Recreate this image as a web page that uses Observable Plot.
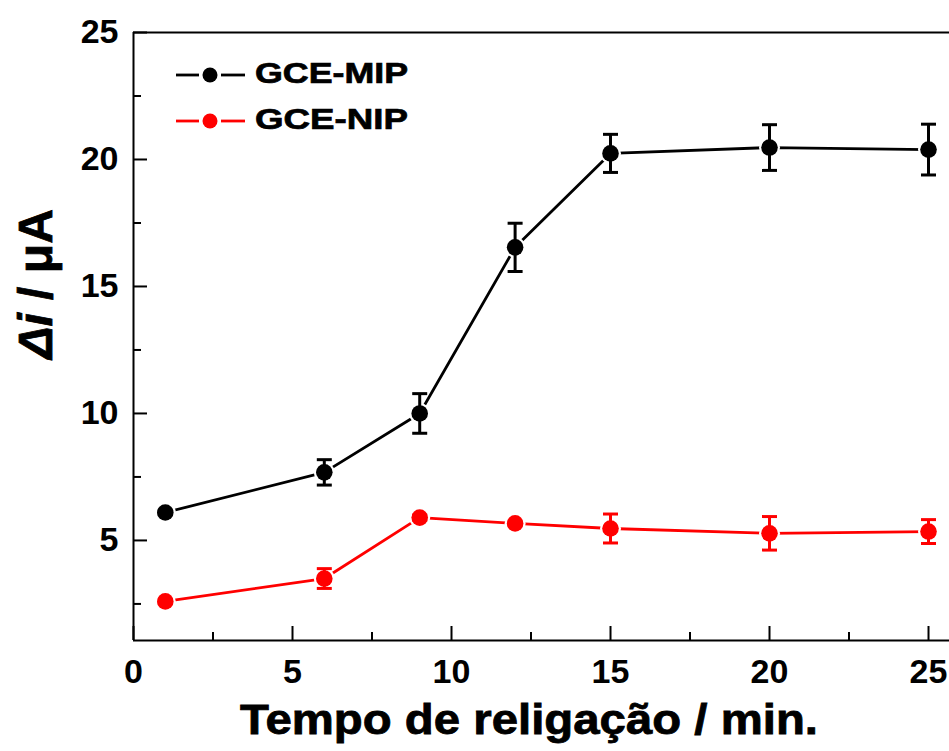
<!DOCTYPE html>
<html>
<head>
<meta charset="utf-8">
<script src="https://cdn.jsdelivr.net/npm/d3@7"></script>
<script src="https://cdn.jsdelivr.net/npm/@observablehq/plot@0.6"></script>
<style>
  html, body { margin: 0; padding: 0; background: #fff; }
  #chart svg { display: block; font-family: "Liberation Sans", Arial, sans-serif; }
</style>
</head>
<body>
<div id="chart"></div>
<script>
// Rebinding time (min) and current response for the imprinted and non-imprinted electrodes
const times = [1, 6, 9, 12, 15, 20, 25];
const mipValues = [6.1, 7.68, 10.0, 16.54, 20.24, 20.47, 20.39];
const mipErrors = [0.05, 0.5, 0.78, 0.95, 0.75, 0.9, 1.0];
const nipValues = [2.6, 3.5, 5.9, 5.67, 5.47, 5.28, 5.35];
const nipErrors = [0.05, 0.39, 0.1, 0.05, 0.57, 0.66, 0.47];

const seriesNames = ["GCE-MIP", "GCE-NIP"];
const seriesColors = ["#000000", "#ff0000"];

const xMajor = [0, 5, 10, 15, 20, 25];
const xMinor = [2.5, 7.5, 12.5, 17.5, 22.5];
const yMajor = [5, 10, 15, 20, 25];
const yMinor = [2.5, 7.5, 12.5, 17.5, 22.5];

const xTitle = "Tempo de religação / min.";

const xDomain = [0, 25.66];
const yDomain = [1.06, 25];

const rows = [];
times.forEach((t, i) => {
  rows.push({series: seriesNames[0], t, v: mipValues[i], e: mipErrors[i]});
  rows.push({series: seriesNames[1], t, v: nipValues[i], e: nipErrors[i]});
});

const W = 949, H = 751;
const mL = 133, mR = 0, mT = 32, mB = 111;
const frameW = W - mL - mR, frameH = H - mT - mB;

// horizontal cap for the error bars
const capSymbol = {
  draw(context) {
    context.moveTo(-7.5, 0);
    context.lineTo(7.5, 0);
  }
};

const colorOf = d => seriesColors[seriesNames.indexOf(d.series)];
const font = {
  fontSize: 34, fontWeight: "bold", fontFamily: "Liberation Sans, Arial, sans-serif",
  stroke: "#000", strokeWidth: 0.7
};

const chart = Plot.plot({
  width: W,
  height: H,
  marginLeft: mL,
  marginRight: mR,
  marginTop: mT,
  marginBottom: mB,
  x: {domain: xDomain, axis: null},
  y: {domain: yDomain, axis: null},
  marks: [
    // frame: left, bottom and top edges
    Plot.ruleX([xDomain[0]], {stroke: "#000", strokeWidth: 2}),
    Plot.ruleY([yDomain[0]], {stroke: "#000", strokeWidth: 2}),
    Plot.ruleY([yDomain[1]], {stroke: "#000", strokeWidth: 2}),
    // inward ticks
    Plot.tickX(xMajor, {x: d => d, insetTop: frameH - 14, stroke: "#000", strokeWidth: 2}),
    Plot.tickX(xMinor, {x: d => d, insetTop: frameH - 8, stroke: "#000", strokeWidth: 2}),
    Plot.tickY(yMajor, {y: d => d, insetRight: frameW - 14, stroke: "#000", strokeWidth: 2}),
    Plot.tickY(yMinor, {y: d => d, insetRight: frameW - 8, stroke: "#000", strokeWidth: 2}),
    // tick labels
    Plot.axisX(xMajor, {anchor: "bottom", tickSize: 0, tickPadding: 18, label: null, ...font}),
    Plot.axisY(yMajor, {anchor: "left", tickSize: 0, tickPadding: 15, label: null, ...font}),
    // series lines
    Plot.line(rows, {x: "t", y: "v", z: "series", stroke: colorOf, strokeWidth: 2.8}),
    // white halo leaving a small gap between line and marker
    Plot.dot(rows, {x: "t", y: "v", r: 10.5, fill: "#fff", stroke: "none"}),
    // error bars
    Plot.ruleX(rows, {x: "t", y1: d => d.v - d.e, y2: d => d.v + d.e, stroke: colorOf, strokeWidth: 3}),
    Plot.dot(rows, {x: "t", y: d => d.v + d.e, symbol: capSymbol, fill: "none", stroke: colorOf, strokeWidth: 3}),
    Plot.dot(rows, {x: "t", y: d => d.v - d.e, symbol: capSymbol, fill: "none", stroke: colorOf, strokeWidth: 3}),
    // markers
    Plot.dot(rows, {x: "t", y: "v", r: 8.3, fill: colorOf, stroke: "none"})
  ]
});

document.getElementById("chart").appendChild(chart);

const svg = d3.select(chart);
const ff = "Liberation Sans, Arial, sans-serif";

// x-axis title
svg.append("text")
  .attr("x", 529).attr("y", 734)
  .attr("text-anchor", "middle")
  .attr("font-family", ff).attr("font-weight", "bold").attr("font-size", 42)
  .attr("textLength", 578).attr("lengthAdjust", "spacingAndGlyphs")
  .attr("fill", "#000").attr("stroke", "#000").attr("stroke-width", 0.8)
  .text(xTitle);

// y-axis title: Δi / μA
const yt = svg.append("text")
  .attr("transform", "translate(52,284) rotate(-90)")
  .attr("text-anchor", "middle")
  .attr("font-family", ff).attr("font-weight", "bold").attr("font-size", 48)
  .attr("fill", "#000").attr("stroke", "#000").attr("stroke-width", 0.8);
yt.append("tspan").attr("font-style", "italic").text("Δi");
yt.append("tspan").text(" / μA");

// legend
const legendY = [75, 121];
seriesNames.forEach((name, i) => {
  const g = svg.append("g").attr("transform", `translate(0,${legendY[i]})`);
  g.append("line").attr("x1", 176).attr("x2", 199).attr("y1", 0).attr("y2", 0)
    .attr("stroke", seriesColors[i]).attr("stroke-width", 2.8);
  g.append("line").attr("x1", 221).attr("x2", 245).attr("y1", 0).attr("y2", 0)
    .attr("stroke", seriesColors[i]).attr("stroke-width", 2.8);
  g.append("circle").attr("cx", 210).attr("cy", 0).attr("r", 7.5).attr("fill", seriesColors[i]);
  g.append("text").attr("x", 255).attr("y", 8)
    .attr("text-anchor", "start")
    .attr("font-family", ff).attr("font-weight", "bold").attr("font-size", 29)
    .attr("textLength", 153).attr("lengthAdjust", "spacingAndGlyphs")
    .attr("fill", "#000").attr("stroke", "#000").attr("stroke-width", 0.7)
    .text(name);
});
</script>
</body>
</html>
